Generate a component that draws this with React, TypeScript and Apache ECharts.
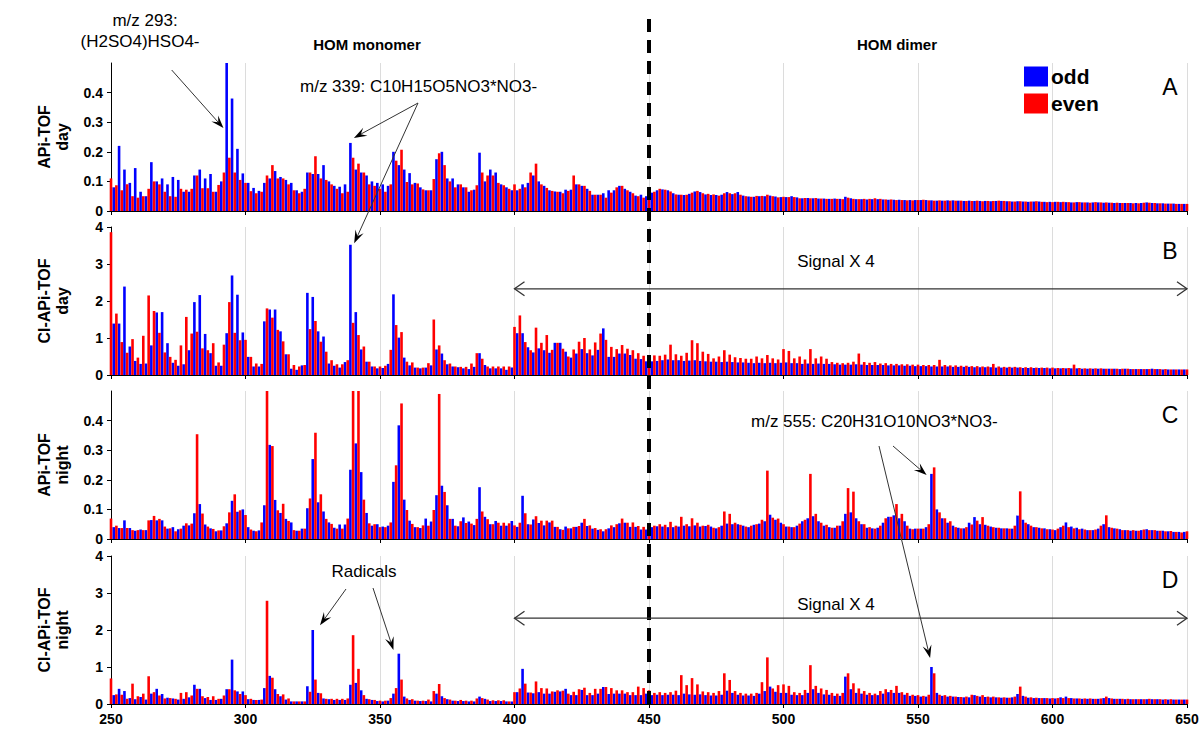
import React, { useEffect, useRef } from 'react';
import * as echarts from 'echarts';

// m/z axis: one value per integer m/z from 250 to 650
const MZ_START = 250;
const X_MIN = 250;
const X_MAX = 650;
const X_STEP = 50;

// Panel A: APi-TOF day
const apiDay = [
  0.11, 0.08, 0.087, 0.22, 0.07, 0.14, 0.09, 0.095, 0.05, 0.145,
  0.045, 0.065, 0.05, 0.05, 0.075, 0.165, 0.1, 0.1, 0.09, 0.11,
  0.065, 0.09, 0.05, 0.115, 0.048, 0.105, 0.075, 0.065, 0.072, 0.065,
  0.075, 0.12, 0.12, 0.14, 0.077, 0.11, 0.077, 0.125, 0.065, 0.065,
  0.088, 0.1, 0.13, 0.52, 0.18, 0.38, 0.13, 0.21, 0.105, 0.127,
  0.095, 0.095, 0.067, 0.078, 0.06, 0.068, 0.065, 0.095, 0.12, 0.11,
  0.155, 0.135, 0.11, 0.115, 0.11, 0.105, 0.09, 0.095, 0.07, 0.07,
  0.06, 0.065, 0.075, 0.13, 0.13, 0.125, 0.185, 0.125, 0.11, 0.155,
  0.105, 0.1, 0.09, 0.085, 0.075, 0.082, 0.06, 0.09, 0.065, 0.23,
  0.18, 0.14, 0.16, 0.13, 0.13, 0.12, 0.09, 0.1, 0.085, 0.095,
  0.075, 0.09, 0.065, 0.085, 0.09, 0.2, 0.17, 0.155, 0.207, 0.14,
  0.098, 0.128, 0.09, 0.095, 0.093, 0.08, 0.073, 0.07, 0.07, 0.07,
  0.108, 0.175, 0.195, 0.2, 0.155, 0.11, 0.1, 0.11, 0.08, 0.09,
  0.09, 0.08, 0.08, 0.065, 0.07, 0.072, 0.087, 0.197, 0.13, 0.1,
  0.12, 0.14, 0.12, 0.13, 0.095, 0.09, 0.087, 0.08, 0.075, 0.07,
  0.09, 0.07, 0.075, 0.09, 0.08, 0.095, 0.13, 0.12, 0.16, 0.1,
  0.09, 0.085, 0.078, 0.07, 0.068, 0.066, 0.065, 0.065, 0.06, 0.072,
  0.068, 0.072, 0.12, 0.09, 0.09, 0.085, 0.085, 0.075, 0.068, 0.055,
  0.055, 0.055, 0.055, 0.06, 0.045, 0.07, 0.062, 0.07, 0.08, 0.085,
  0.085, 0.075, 0.07, 0.065, 0.06, 0.052, 0.05, 0.055, 0.045, 0.05,
  0.05, 0.062, 0.065, 0.07, 0.075, 0.073, 0.072, 0.07, 0.066, 0.06,
  0.056, 0.055, 0.055, 0.054, 0.055, 0.058, 0.062, 0.066, 0.068, 0.064,
  0.06, 0.056, 0.058, 0.054, 0.056, 0.054, 0.052, 0.055, 0.06, 0.064,
  0.06, 0.057, 0.06, 0.064, 0.055, 0.052, 0.05, 0.049, 0.048, 0.048,
  0.051, 0.05, 0.051, 0.05, 0.055, 0.052, 0.05, 0.049, 0.046, 0.047,
  0.048, 0.047, 0.047, 0.05, 0.047, 0.046, 0.043, 0.043, 0.044, 0.044,
  0.043, 0.043, 0.044, 0.042, 0.042, 0.042, 0.041, 0.041, 0.041, 0.042,
  0.041, 0.041, 0.04, 0.048, 0.045, 0.043, 0.041, 0.04, 0.04, 0.04,
  0.041, 0.039, 0.041, 0.04, 0.043, 0.04, 0.041, 0.039, 0.039, 0.038,
  0.039, 0.038, 0.037, 0.038, 0.037, 0.037, 0.036, 0.037, 0.036, 0.037,
  0.037, 0.037, 0.038, 0.037, 0.036, 0.036, 0.035, 0.035, 0.036, 0.035,
  0.035, 0.036, 0.035, 0.036, 0.035, 0.035, 0.035, 0.034, 0.034, 0.035,
  0.034, 0.034, 0.035, 0.034, 0.033, 0.034, 0.034, 0.033, 0.034, 0.034,
  0.035, 0.034, 0.034, 0.033, 0.033, 0.032, 0.032, 0.033, 0.033, 0.032,
  0.032, 0.031, 0.032, 0.032, 0.033, 0.032, 0.031, 0.031, 0.03, 0.031,
  0.03, 0.031, 0.031, 0.03, 0.031, 0.03, 0.03, 0.029, 0.029, 0.03,
  0.03, 0.029, 0.029, 0.029, 0.028, 0.029, 0.03, 0.029, 0.029, 0.028,
  0.029, 0.028, 0.028, 0.027, 0.028, 0.027, 0.027, 0.027, 0.027, 0.027,
  0.026, 0.027, 0.026, 0.027, 0.028, 0.029, 0.028, 0.027, 0.027, 0.026,
  0.026, 0.026, 0.025, 0.025, 0.025, 0.025, 0.024, 0.024, 0.024, 0.024,
  0.024,
];

// Panel B: CI-APi-TOF day
const ciDay = [
  3.86, 1.39, 1.66, 1.39, 0.89, 2.39, 0.6, 0.77, 0.97, 0.38,
  0.47, 0.3, 1.06, 0.31, 2.15, 0.8, 1.73, 1.69, 1.14, 1.7,
  0.61, 0.86, 0.49, 0.33, 0.41, 0.25, 0.8, 0.29, 1.57, 0.67,
  1.12, 1.97, 1.17, 2.16, 0.72, 1.11, 0.67, 0.59, 0.86, 0.25,
  0.34, 0.25, 0.82, 1.13, 1.97, 2.69, 1.14, 2.17, 0.94, 1.15,
  0.95, 0.49, 0.49, 0.23, 0.31, 0.23, 0.3, 1.45, 1.8, 1.77,
  1.55, 1.77, 1.22, 1.18, 0.91, 0.56, 0.56, 0.17, 0.27, 0.14,
  0.23, 0.26, 0.27, 2.22, 1.24, 2.11, 1.46, 1.18, 0.9, 1.04,
  0.63, 0.31, 0.4, 0.25, 0.29, 0.2, 0.29, 0.35, 0.4, 3.52,
  1.41, 1.7, 1.08, 0.69, 0.77, 0.36, 0.36, 0.23, 0.23, 0.18,
  0.23, 0.19, 0.25, 0.3, 0.68, 2.18, 1.35, 1.01, 1.16, 0.47,
  0.36, 0.26, 0.34, 0.2, 0.2, 0.18, 0.2, 0.2, 0.32, 0.26,
  1.5, 0.69, 0.8, 0.58, 0.4, 0.29, 0.31, 0.23, 0.23, 0.21,
  0.22, 0.18, 0.22, 0.16, 0.31, 0.22, 0.59, 0.59, 0.44, 0.27,
  0.23, 0.18, 0.23, 0.18, 0.23, 0.18, 0.23, 0.14, 0.23, 0.2,
  1.3, 1.13, 1.61, 1.13, 0.89, 0.75, 0.67, 0.61, 1.28, 0.72,
  0.87, 0.67, 1.08, 0.6, 0.68, 0.87, 0.87, 0.87, 0.71, 0.63,
  0.5, 0.47, 0.69, 0.58, 0.9, 0.7, 1.0, 0.59, 0.69, 0.53,
  0.88, 0.68, 1.12, 1.26, 0.95, 0.49, 0.76, 0.49, 0.7, 0.58,
  0.81, 0.58, 0.71, 0.54, 0.67, 0.44, 0.59, 0.43, 0.52, 0.37,
  0.43, 0.37, 0.53, 0.38, 0.52, 0.4, 0.55, 0.42, 0.82, 0.4,
  0.56, 0.4, 0.52, 0.38, 0.6, 0.39, 0.94, 0.4, 0.86, 0.38,
  0.63, 0.37, 0.57, 0.36, 0.45, 0.36, 0.5, 0.35, 0.67, 0.36,
  0.55, 0.35, 0.48, 0.34, 0.46, 0.34, 0.44, 0.33, 0.44, 0.32,
  0.5, 0.33, 0.45, 0.32, 0.54, 0.33, 0.45, 0.32, 0.42, 0.33,
  0.7, 0.34, 0.65, 0.32, 0.45, 0.32, 0.5, 0.3, 0.42, 0.31,
  0.7, 0.3, 0.45, 0.31, 0.5, 0.3, 0.44, 0.3, 0.35, 0.29,
  0.33, 0.28, 0.32, 0.28, 0.33, 0.28, 0.36, 0.29, 0.58, 0.28,
  0.35, 0.27, 0.33, 0.27, 0.35, 0.27, 0.31, 0.27, 0.32, 0.26,
  0.3, 0.26, 0.3, 0.26, 0.29, 0.25, 0.29, 0.25, 0.28, 0.24,
  0.28, 0.24, 0.27, 0.24, 0.27, 0.23, 0.27, 0.23, 0.41, 0.23,
  0.27, 0.23, 0.26, 0.22, 0.26, 0.22, 0.25, 0.22, 0.25, 0.22,
  0.24, 0.21, 0.24, 0.21, 0.23, 0.21, 0.23, 0.21, 0.3, 0.2,
  0.23, 0.2, 0.22, 0.2, 0.22, 0.2, 0.22, 0.2, 0.21, 0.19,
  0.21, 0.19, 0.21, 0.19, 0.2, 0.19, 0.2, 0.19, 0.2, 0.18,
  0.2, 0.18, 0.19, 0.18, 0.19, 0.18, 0.19, 0.18, 0.28, 0.18,
  0.19, 0.17, 0.18, 0.17, 0.18, 0.17, 0.18, 0.17, 0.18, 0.17,
  0.17, 0.17, 0.17, 0.17, 0.17, 0.16, 0.17, 0.17, 0.17, 0.16,
  0.16, 0.16, 0.16, 0.16, 0.16, 0.16, 0.16, 0.17, 0.16, 0.16,
  0.16, 0.15, 0.16, 0.15, 0.15, 0.15, 0.15, 0.15, 0.15, 0.15,
  0.15,
];

// Panel C: APi-TOF night
const apiNight = [
  0.069, 0.04, 0.045, 0.037, 0.037, 0.063, 0.037, 0.037, 0.03, 0.028,
  0.03, 0.032, 0.03, 0.03, 0.063, 0.064, 0.078, 0.063, 0.068, 0.063,
  0.042, 0.035, 0.036, 0.04, 0.026, 0.033, 0.035, 0.045, 0.053, 0.046,
  0.052, 0.087, 0.354, 0.118, 0.086, 0.049, 0.042, 0.036, 0.034, 0.026,
  0.029, 0.029, 0.043, 0.053, 0.09, 0.129, 0.151, 0.092, 0.097, 0.1,
  0.081, 0.04, 0.032, 0.028, 0.026, 0.029, 0.056, 0.114, 0.52, 0.318,
  0.314, 0.132, 0.097, 0.088, 0.119, 0.068, 0.061, 0.056, 0.03, 0.028,
  0.028, 0.035, 0.035, 0.104, 0.137, 0.27, 0.359, 0.124, 0.151, 0.093,
  0.068, 0.056, 0.051, 0.038, 0.035, 0.049, 0.035, 0.049, 0.069, 0.234,
  0.52, 0.323, 0.52, 0.226, 0.133, 0.088, 0.053, 0.045, 0.05, 0.05,
  0.04, 0.042, 0.04, 0.045, 0.056, 0.193, 0.249, 0.384, 0.458, 0.133,
  0.098, 0.062, 0.051, 0.04, 0.04, 0.037, 0.046, 0.069, 0.045, 0.059,
  0.098, 0.148, 0.49, 0.18, 0.159, 0.114, 0.068, 0.068, 0.045, 0.043,
  0.06, 0.073, 0.054, 0.059, 0.052, 0.047, 0.068, 0.175, 0.093, 0.075,
  0.067, 0.05, 0.05, 0.061, 0.055, 0.045, 0.055, 0.045, 0.053, 0.061,
  0.046, 0.041, 0.055, 0.146, 0.087, 0.05, 0.049, 0.066, 0.077, 0.054,
  0.062, 0.046, 0.062, 0.056, 0.062, 0.041, 0.041, 0.033, 0.031, 0.042,
  0.036, 0.036, 0.041, 0.041, 0.044, 0.055, 0.068, 0.044, 0.046, 0.035,
  0.037, 0.031, 0.033, 0.026, 0.033, 0.036, 0.046, 0.04, 0.05, 0.053,
  0.069, 0.055, 0.055, 0.041, 0.056, 0.041, 0.044, 0.032, 0.041, 0.032,
  0.036, 0.04, 0.045, 0.043, 0.05, 0.042, 0.048, 0.04, 0.058, 0.04,
  0.045, 0.042, 0.075, 0.045, 0.05, 0.043, 0.07, 0.046, 0.055, 0.042,
  0.045, 0.044, 0.048, 0.042, 0.038, 0.036, 0.04, 0.045, 0.093, 0.052,
  0.085, 0.05, 0.055, 0.05, 0.048, 0.045, 0.042, 0.04, 0.045, 0.048,
  0.05, 0.052, 0.065, 0.06, 0.231, 0.082, 0.072, 0.065, 0.069, 0.055,
  0.05, 0.042, 0.042, 0.04, 0.04, 0.045, 0.052, 0.06, 0.065, 0.07,
  0.22, 0.077, 0.085, 0.06, 0.055, 0.045, 0.048, 0.04, 0.038, 0.038,
  0.045, 0.045, 0.06, 0.085, 0.172, 0.09, 0.16, 0.07, 0.06, 0.05,
  0.05, 0.038, 0.04, 0.036, 0.035, 0.038, 0.045, 0.055, 0.07, 0.075,
  0.075, 0.08, 0.118, 0.07, 0.085, 0.06, 0.045, 0.035, 0.033, 0.035,
  0.035, 0.035, 0.035, 0.04, 0.05, 0.22, 0.242, 0.1, 0.09, 0.07,
  0.07, 0.055, 0.06, 0.045, 0.04, 0.038, 0.036, 0.036, 0.04, 0.055,
  0.049, 0.074, 0.062, 0.05, 0.074, 0.048, 0.045, 0.042, 0.04, 0.038,
  0.038, 0.036, 0.036, 0.036, 0.035, 0.035, 0.045, 0.079, 0.161, 0.065,
  0.055, 0.05, 0.045, 0.04, 0.04, 0.038, 0.036, 0.036, 0.033, 0.033,
  0.032, 0.03, 0.035, 0.04, 0.045, 0.056, 0.04, 0.042, 0.036, 0.038,
  0.033, 0.035, 0.032, 0.03, 0.03, 0.03, 0.032, 0.035, 0.045, 0.05,
  0.08, 0.04, 0.038, 0.036, 0.035, 0.033, 0.03, 0.03, 0.03, 0.028,
  0.03, 0.028, 0.028, 0.03, 0.032, 0.033, 0.03, 0.03, 0.03, 0.028,
  0.028, 0.028, 0.026, 0.026, 0.027, 0.024, 0.024, 0.024, 0.022, 0.024,
  0.026,
];

// Panel D: CI-APi-TOF night
const ciNight = [
  0.69, 0.24, 0.26, 0.41, 0.25, 0.35, 0.14, 0.16, 0.55, 0.13,
  0.21, 0.19, 0.28, 0.12, 0.75, 0.28, 0.32, 0.41, 0.23, 0.27,
  0.15, 0.17, 0.16, 0.15, 0.14, 0.12, 0.3, 0.14, 0.32, 0.18,
  0.23, 0.52, 0.41, 0.41, 0.21, 0.16, 0.19, 0.11, 0.21, 0.11,
  0.14, 0.14, 0.23, 0.4, 0.4, 1.2, 0.37, 0.34, 0.27, 0.34,
  0.24, 0.13, 0.14, 0.11, 0.11, 0.11, 0.12, 0.43, 2.79, 0.76,
  0.71, 0.4, 0.27, 0.21, 0.26, 0.12, 0.15, 0.07, 0.07, 0.07,
  0.07, 0.07, 0.07, 0.48, 0.33, 2.0, 0.66, 0.3, 0.29, 0.15,
  0.14, 0.13, 0.14, 0.11, 0.14, 0.11, 0.14, 0.11, 0.15, 0.52,
  1.86, 0.57, 0.95, 0.37, 0.24, 0.14, 0.13, 0.11, 0.11, 0.08,
  0.09, 0.07, 0.09, 0.09, 0.16, 0.28, 0.43, 1.36, 0.66, 0.2,
  0.15, 0.11, 0.13, 0.09, 0.09, 0.08, 0.09, 0.08, 0.12, 0.07,
  0.35, 0.28, 0.54, 0.21, 0.16, 0.13, 0.12, 0.09, 0.09, 0.08,
  0.11, 0.08, 0.09, 0.07, 0.09, 0.07, 0.15, 0.2, 0.16, 0.14,
  0.12, 0.08, 0.1, 0.08, 0.1, 0.08, 0.1, 0.07, 0.07, 0.07,
  0.32, 0.32, 0.42, 0.95, 0.55, 0.31, 0.31, 0.29, 0.61, 0.32,
  0.43, 0.28, 0.42, 0.28, 0.34, 0.33, 0.37, 0.34, 0.36, 0.41,
  0.28, 0.24, 0.33, 0.24, 0.4, 0.38, 0.44, 0.24, 0.3, 0.24,
  0.41, 0.28, 0.41, 0.46, 0.46, 0.27, 0.43, 0.28, 0.37, 0.28,
  0.37, 0.28, 0.32, 0.24, 0.32, 0.24, 0.47, 0.24, 0.43, 0.28,
  0.37, 0.24, 0.3, 0.25, 0.32, 0.24, 0.3, 0.25, 0.32, 0.25,
  0.36, 0.24, 0.78, 0.28, 0.51, 0.26, 0.7, 0.25, 0.53, 0.26,
  0.34, 0.24, 0.32, 0.23, 0.3, 0.23, 0.35, 0.25, 0.83, 0.36,
  0.65, 0.3, 0.35, 0.25, 0.3, 0.23, 0.28, 0.23, 0.28, 0.22,
  0.3, 0.28, 0.59, 0.35, 1.26, 0.47, 0.42, 0.33, 0.51, 0.3,
  0.53, 0.3, 0.49, 0.25, 0.32, 0.24, 0.3, 0.24, 0.38, 0.3,
  1.05, 0.4, 0.49, 0.3, 0.42, 0.26, 0.38, 0.25, 0.3, 0.22,
  0.28, 0.22, 0.3, 0.74, 0.83, 0.4, 0.56, 0.3, 0.42, 0.28,
  0.35, 0.25, 0.3, 0.24, 0.28, 0.24, 0.35, 0.28, 0.4, 0.32,
  0.38, 0.3, 0.49, 0.3, 0.32, 0.25, 0.3, 0.22, 0.25, 0.22,
  0.24, 0.2, 0.22, 0.2, 0.25, 1.0, 0.83, 0.3, 0.25, 0.22,
  0.24, 0.2, 0.22, 0.2, 0.2, 0.19, 0.19, 0.18, 0.2, 0.18,
  0.25, 0.24, 0.22, 0.2, 0.24, 0.19, 0.2, 0.18, 0.2, 0.18,
  0.18, 0.17, 0.18, 0.17, 0.17, 0.18, 0.2, 0.27, 0.47, 0.22,
  0.2, 0.17, 0.18, 0.16, 0.17, 0.16, 0.16, 0.16, 0.16, 0.15,
  0.16, 0.15, 0.16, 0.18, 0.16, 0.2, 0.16, 0.16, 0.15, 0.15,
  0.15, 0.14, 0.15, 0.14, 0.15, 0.14, 0.14, 0.14, 0.15, 0.16,
  0.2, 0.16, 0.15, 0.14, 0.14, 0.14, 0.14, 0.13, 0.14, 0.13,
  0.13, 0.13, 0.13, 0.13, 0.13, 0.13, 0.14, 0.13, 0.13, 0.13,
  0.13, 0.12, 0.13, 0.12, 0.13, 0.12, 0.12, 0.12, 0.12, 0.12,
  0.12,
];

const panels = [apiDay, ciDay, apiNight, ciNight];
const panelNames = ['APi-TOF\nday', 'CI-APi-TOF\nday', 'APi-TOF\nnight', 'CI-APi-TOF\nnight'];
const panelLetters = ['A', 'B', 'C', 'D'];
const yMaxes = [0.5, 4, 0.5, 4];
const ySteps = [0.1, 1, 0.1, 1];
const parityNames = ['odd', 'even'];
const parityColors = ['#0000ff', '#ff0000'];

const FONT = '"Liberation Sans", Arial, Helvetica, sans-serif';
const GRID_TOPS = [63, 227, 391, 556];
const GRID_H = 148;
const GRID_LEFT = 111;
const GRID_RIGHT = 17;

export default function App() {
  const ref = useRef<HTMLDivElement>(null);

  useEffect(() => {
    if (!ref.current) return;
    const chart = echarts.init(ref.current, null, { renderer: 'svg' });

    const grids = GRID_TOPS.map((top) => ({ left: GRID_LEFT, right: GRID_RIGHT, top, height: GRID_H, containLabel: false }));

    const xAxes = panels.map((_, p) => ({
      type: 'value',
      gridIndex: p,
      min: X_MIN,
      max: X_MAX,
      interval: X_STEP,
      axisLine: { show: true, onZero: false, lineStyle: { color: '#000', width: 1 } },
      axisTick: { show: true, length: 4, lineStyle: { color: '#000' } },
      axisLabel: { show: p === 3, color: '#000', fontSize: 14, fontWeight: 'bold', fontFamily: FONT, margin: 8 },
      splitLine: { show: true, lineStyle: { color: '#dcdcdc', width: 1 } },
    }));

    const yAxes = panels.map((_, p) => ({
      type: 'value',
      gridIndex: p,
      min: 0,
      max: yMaxes[p],
      interval: ySteps[p],
      name: panelNames[p],
      nameLocation: 'middle',
      nameRotate: 90,
      nameGap: 40,
      nameTextStyle: { fontSize: 16, fontWeight: 'bold', fontFamily: FONT, color: '#000', lineHeight: 18 },
      axisLine: { show: true, lineStyle: { color: '#000', width: 1 } },
      axisTick: { show: true, length: 4, lineStyle: { color: '#000' } },
      axisLabel: {
        color: '#000',
        fontSize: 14,
        fontWeight: 'bold',
        fontFamily: FONT,
        margin: 8,
        showMaxLabel: yMaxes[p] === 4,
      },
      splitLine: { show: false },
    }));

    const series: any[] = [];
    panels.forEach((vals, p) => {
      parityNames.forEach((name, k) => {
        const wantOdd = k === 0;
        const data = vals
          .map((v, i) => [MZ_START + i, v])
          .filter((d) => (d[0] % 2 === 1) === wantOdd);
        series.push({
          type: 'bar',
          name,
          xAxisIndex: p,
          yAxisIndex: p,
          data,
          barWidth: 2.6,
          barGap: '-100%',
          clip: true,
          itemStyle: { color: parityColors[k] },
          emphasis: { disabled: true },
        });
      });
    });

    chart.setOption({
      animation: false,
      backgroundColor: '#fff',
      textStyle: { fontFamily: FONT },
      grid: grids,
      xAxis: xAxes,
      yAxis: yAxes,
      legend: {
        data: parityNames,
        orient: 'vertical',
        left: 1019,
        top: 61,
        itemWidth: 24,
        itemHeight: 20,
        itemGap: 6,
        icon: 'rect',
        selectedMode: false,
        textStyle: { fontSize: 21, fontWeight: 'bold', color: '#000', fontFamily: FONT, padding: [0, 0, 0, -2] },
      },
      series,
    });

    // ---- annotations (placed through the axes' own scales) ----
    const P = (p: number, x: number, y: number) =>
      chart.convertToPixel({ gridIndex: p } as any, [x, y]) as number[];
    const g: any[] = [];
    const text = (x: number, y: number, t: string, o: any = {}) =>
      g.push({
        type: 'text',
        z: 100,
        x,
        y,
        style: {
          text: t,
          fill: '#000',
          fontSize: 17,
          fontFamily: FONT,
          align: 'center',
          verticalAlign: 'middle',
          ...o,
        },
      });
    const arrow = (x1: number, y1: number, x2: number, y2: number) => {
      const dx = x2 - x1;
      const dy = y2 - y1;
      const len = Math.hypot(dx, dy);
      const ux = dx / len;
      const uy = dy / len;
      const nx = -uy;
      const ny = ux;
      const L = 13;
      const W = 4.5;
      g.push({
        type: 'line',
        z: 100,
        shape: { x1, y1, x2: x2 - ux * L * 0.6, y2: y2 - uy * L * 0.6 },
        style: { stroke: '#333', lineWidth: 1 },
      });
      g.push({
        type: 'polygon',
        z: 100,
        shape: {
          points: [
            [x2, y2],
            [x2 - ux * L + nx * W, y2 - uy * L + ny * W],
            [x2 - ux * L * 0.6, y2 - uy * L * 0.6],
            [x2 - ux * L - nx * W, y2 - uy * L - ny * W],
          ],
        },
        style: { fill: '#000' },
      });
    };
    const doubleArrow = (p: number, xa: number, xb: number, yv: number) => {
      const [x1, y1] = P(p, xa, yv);
      const [x2] = P(p, xb, yv);
      g.push({ type: 'line', z: 100, shape: { x1, y1, x2, y2: y1 }, style: { stroke: '#333', lineWidth: 1.3 } });
      g.push({ type: 'polyline', z: 100, shape: { points: [[x1 + 10, y1 - 7], [x1, y1], [x1 + 10, y1 + 7]] }, style: { stroke: '#333', lineWidth: 1.3, fill: 'none' } });
      g.push({ type: 'polyline', z: 100, shape: { points: [[x2 - 10, y1 - 7], [x2, y1], [x2 - 10, y1 + 7]] }, style: { stroke: '#333', lineWidth: 1.3, fill: 'none' } });
    };

    // dashed separator at m/z 450
    const [xd] = P(0, 450, 0);
    const yBottom = P(3, 450, 0)[1];
    g.push({
      type: 'line',
      z: 100,
      shape: { x1: xd, y1: 19, x2: xd, y2: yBottom },
      style: { stroke: '#000', lineWidth: 4, lineDash: [13, 8] },
    });

    // panel letters
    panelLetters.forEach((L, p) => {
      text(1170, GRID_TOPS[p] + 24, L, { fontSize: 23 });
    });

    // header texts
    text(145, 20, 'm/z 293:');
    text(140, 41, '(H2SO4)HSO4-');
    text(367, 44, 'HOM monomer', { fontWeight: 'bold', fontSize: 15 });
    text(897, 44, 'HOM dimer', { fontWeight: 'bold', fontSize: 15 });
    text(300, 86, 'm/z 339: C10H15O5NO3*NO3-', { align: 'left' });
    text(751, 421, 'm/z 555: C20H31O10NO3*NO3-', { align: 'left' });
    text(364, 571, 'Radicals');

    // arrows
    let t = P(0, 291.8, 0.28);
    arrow(171.7, 70, t[0], t[1]);
    t = P(0, 340.3, 0.247);
    arrow(418, 103, t[0], t[1]);
    t = P(1, 340.4, 3.56);
    arrow(418, 103, t[0], t[1]);
    t = P(2, 553.2, 0.216);
    arrow(893, 446, t[0], t[1]);
    t = P(3, 554.5, 1.24);
    arrow(879, 446, t[0], t[1]);
    t = P(3, 327.7, 2.13);
    arrow(346, 589, t[0], t[1]);
    t = P(3, 355, 1.46);
    arrow(373, 588, t[0], t[1]);

    // Signal X 4 ranges
    doubleArrow(1, 400, 650, 2.33);
    doubleArrow(3, 400, 650, 2.32);
    const s1 = P(1, 519.5, 3.08);
    text(s1[0], s1[1], 'Signal X 4');
    const s2 = P(3, 519.5, 2.68);
    text(s2[0], s2[1], 'Signal X 4');

    chart.setOption({ graphic: g });

    return () => {
      chart.dispose();
    };
  }, []);

  return (
    <div
      ref={ref}
      style={{ position: 'fixed', left: 0, top: 0, width: 1204, height: 740, background: '#fff' }}
    />
  );
}
